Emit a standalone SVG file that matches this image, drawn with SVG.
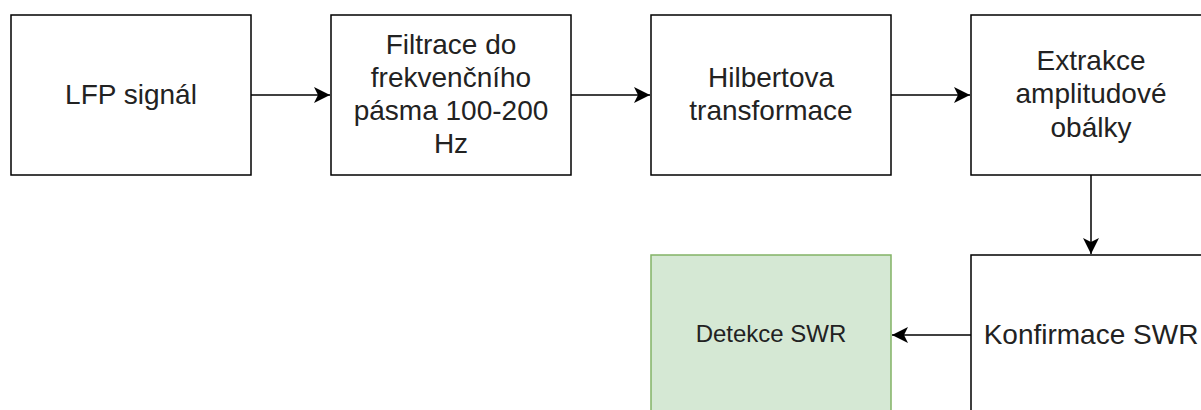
<svg xmlns="http://www.w3.org/2000/svg" width="1201" height="410" viewBox="0 0 1201 410">
  <style>
    .box { fill: #ffffff; stroke: #000000; stroke-width: 1.5; }
    .box-ok { fill: #d5e8d4; stroke: #82b366; stroke-width: 1.5; }
    .lbl { font-family: "Liberation Sans", Arial, sans-serif; font-size: 28px; fill: #222222; text-anchor: middle; }
    .lbl-sm { font-family: "Liberation Sans", Arial, sans-serif; font-size: 24px; fill: #222222; text-anchor: middle; }
    .edge { fill: none; stroke: #000000; stroke-width: 1.5; }
  </style>
  <defs>
    <marker id="arrow" markerUnits="userSpaceOnUse" viewBox="0 0 16 16" refX="16" refY="8" markerWidth="16" markerHeight="16" orient="auto">
      <path d="M0,0 L16,8 L0,16 L4,8 Z" fill="#000000"/>
    </marker>
  </defs>

  <rect width="1201" height="410" fill="#ffffff"/>

  <g id="connectors">
    <path class="edge" d="M251,95 L330,95" marker-end="url(#arrow)"/>
    <path class="edge" d="M571,95 L650,95" marker-end="url(#arrow)"/>
    <path class="edge" d="M891,95 L970,95" marker-end="url(#arrow)"/>
    <path class="edge" d="M1091,175 L1091,254" marker-end="url(#arrow)"/>
    <path class="edge" d="M971,335 L892,335" marker-end="url(#arrow)"/>
  </g>

  <g id="lfp-signal">
    <rect class="box" x="11" y="15" width="240" height="160"/>
    <text class="lbl" x="131" y="104">LFP signál</text>
  </g>

  <g id="filtrace">
    <rect class="box" x="331" y="15" width="240" height="160"/>
    <text class="lbl" x="451" y="54">Filtrace do</text>
    <text class="lbl" x="451" y="87">frekvenčního</text>
    <text class="lbl" x="451" y="120">pásma 100-200</text>
    <text class="lbl" x="451" y="153">Hz</text>
  </g>

  <g id="hilbert">
    <rect class="box" x="651" y="15" width="240" height="160"/>
    <text class="lbl" x="771" y="87">Hilbertova</text>
    <text class="lbl" x="771" y="120">transformace</text>
  </g>

  <g id="extrakce">
    <rect class="box" x="971" y="15" width="240" height="160"/>
    <text class="lbl" x="1091" y="70">Extrakce</text>
    <text class="lbl" x="1091" y="103">amplitudové</text>
    <text class="lbl" x="1091" y="137">obálky</text>
  </g>

  <g id="konfirmace">
    <rect class="box" x="971" y="255" width="240" height="160"/>
    <text class="lbl" x="1091" y="344">Konfirmace SWR</text>
  </g>

  <g id="detekce">
    <rect class="box-ok" x="651" y="255" width="240" height="160"/>
    <text class="lbl-sm" x="771" y="342">Detekce SWR</text>
  </g>
</svg>
